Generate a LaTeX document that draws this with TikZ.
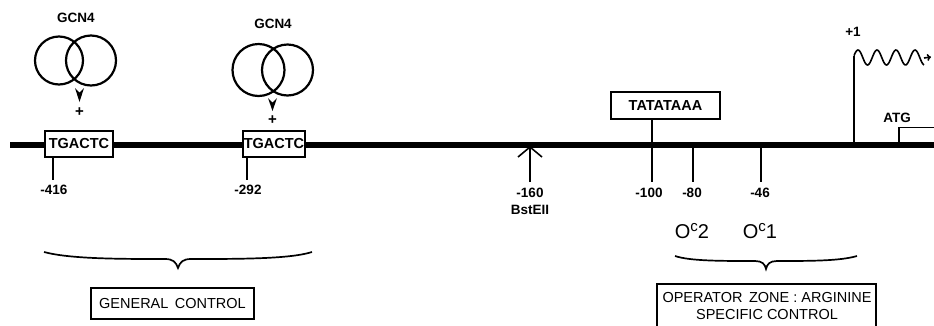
\documentclass[tikz,border=0pt]{standalone}
\usepackage{fontspec}
\setmainfont{Liberation Sans}
\usetikzlibrary{arrows.meta}
\begin{document}
\begin{tikzpicture}[x=1pt,y=-1pt,
  thinline/.style={line width=1.6pt},
  seqbox/.style={draw,fill=white,line width=1.6pt,inner sep=0pt,minimum height=26pt,font=\fontsize{14.5}{15}\selectfont\bfseries},
  lab/.style={font=\fontsize{13.5}{15}\selectfont\bfseries,inner sep=0pt},
  boxlab/.style={draw,line width=1.6pt,inner sep=0pt,font=\fontsize{14.5}{17}\selectfont,align=center},
  ring/.style={draw,circle,line width=2.2pt,inner sep=0pt},
  opname/.style={font=\fontsize{20}{20}\selectfont,inner sep=0pt},
  arrowhd/.style={fill=black},
  bracepath/.style={line width=1.7pt}
]
\useasboundingbox (0,0) rectangle (934,325);

% DNA
\coordinate (dnaL) at (10,145);
\coordinate (dnaR) at (934,145);
\draw[line width=5.5pt] (dnaL) -- (dnaR);

% GCN4 group 1
\node[lab] (g1) at (76,18) {GCN4};
\node[ring,minimum size=48pt] (c1a) at (59,60.5) {};
\node[ring,minimum size=50pt] (c1b) at (91,60.5) {};
\fill[arrowhd] (75,88) -- (79.5,92.5) -- (84,88) -- (79.5,102) -- cycle;
\node[lab,font=\fontsize{15}{15}\selectfont\bfseries] (p1) at (79.5,112) {+};
\node[seqbox,minimum width=68pt] (b1) at (79,144) {TGACTC};
\coordinate (t1) at (53,180);
\draw[thinline] (b1.south -| t1) -- (t1);
\node[lab] (l1) at (54,190) {-416};

% GCN4 group 2
\node[lab] (g2) at (273,24) {GCN4};
\node[ring,minimum size=52pt] (c2a) at (258.5,70) {};
\node[ring,minimum size=51pt] (c2b) at (287.5,70) {};
\fill[arrowhd] (268,98) -- (272.5,102.5) -- (277,98) -- (272.5,111) -- cycle;
\node[lab,font=\fontsize{15}{15}\selectfont\bfseries] (p2) at (272.5,120) {+};
\node[seqbox,minimum width=62pt] (b2) at (274,144) {TGACTC};
\coordinate (t2) at (247,180);
\draw[thinline] (b2.south -| t2) -- (t2);
\node[lab] (l2) at (248,190) {-292};

% BstEII
\coordinate (bs) at (530,147);
\coordinate (bsb) at (530,182);
\draw[thinline] (bsb) -- (bs);
\draw[thinline] (518,157) -- (bs) -- (542,157);
\node[lab] (l3) at (530,193) {-160};
\node[lab] (l3b) at (530,210) {BstEII};

% TATA box
\node[seqbox,minimum width=109pt,minimum height=27pt] (tata) at (665.5,105.5) {TATATAAA};
\coordinate (t4) at (652,182);
\draw[thinline] (tata.south -| t4) -- (t4);
\coordinate (t5a) at (693,147);
\coordinate (t5) at (693,182);
\draw[thinline] (t5a) -- (t5);
\coordinate (t6a) at (761,147);
\coordinate (t6) at (761,182);
\draw[thinline] (t6a) -- (t6);
\node[lab] (l4) at (649,193) {-100};
\node[lab] (l5) at (692,193) {-80};
\node[lab] (l6) at (760,193) {-46};

% operators
\node[opname] (o2) at (692,231) {O\raisebox{0.35em}{\fontsize{15}{15}\selectfont c}2};
\node[opname] (o1) at (760,231) {O\raisebox{0.35em}{\fontsize{15}{15}\selectfont c}1};

% transcription start
\coordinate (ts0) at (854,143);
\coordinate (ts1) at (854,56);
\draw[thinline] (ts0) -- (ts1);
\draw[thinline] plot[domain=-4:66,samples=90,smooth] ({858+\x},{57.5-7.5*cos(\x/19*360)});
\coordinate (wv) at (924,58);
\coordinate (wvt) at (931,57);
\draw[thinline,-{To[length=4pt,width=7pt]}] (wv) -- (wvt);
\node[lab] (plus1) at (853,32) {+1};

% ATG
\node[lab] (atg) at (897,118) {ATG};
\draw[thinline] (899,143) -- (899,127.5) -- (934,127.5);

% braces
\draw[bracepath] (44,252) .. controls (70,259) and (120,259) .. (165,259)
  .. controls (173,259) and (176,262) .. (178,268)
  .. controls (180,262) and (183,259) .. (191,259)
  .. controls (240,259) and (290,259) .. (312,252);
\draw[bracepath] (675,256) .. controls (690,261) and (720,261) .. (755,261)
  .. controls (762,261) and (765,264) .. (766,269)
  .. controls (767,264) and (770,261) .. (777,261)
  .. controls (810,261) and (840,261) .. (857,256);

% labels
\node[boxlab,minimum width=163pt,minimum height=31pt] (gc) at (172.5,303.5) {GENERAL\, CONTROL};
\node[font=\fontsize{14.5}{17}\selectfont,align=center,inner sep=0pt] (oz) at (767,306) {OPERATOR\, ZONE : ARGININE\\SPECIFIC CONTROL};
\draw[thinline] (657,326) -- (657,284) -- (876,284) -- (876,326);
\end{tikzpicture}
\end{document}
